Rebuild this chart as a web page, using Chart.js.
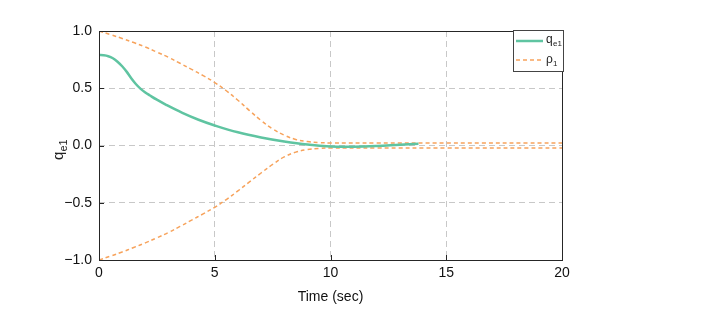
<!DOCTYPE html>
<html>
<head>
<meta charset="utf-8">
<script src="https://cdn.jsdelivr.net/npm/chart.js@4.4.0/dist/chart.umd.min.js"></script>
<style>
  html, body { margin: 0; padding: 0; background: #fff; }
  #wrap { width: 710px; height: 310px; }
</style>
</head>
<body>
<div id="wrap"><canvas id="c" width="710" height="310"></canvas></div>
<script>
// time samples and values
const qTime = [0, 0.2, 0.4, 0.6, 0.8, 1.0, 1.2, 1.4, 1.6, 1.8, 2.0, 2.2, 2.5, 2.9, 3.6, 4.3, 5, 6, 7, 8, 9, 10, 11, 12, 13, 13.8];
const qValues = [0.79, 0.788, 0.78, 0.762, 0.732, 0.692, 0.643, 0.585, 0.535, 0.495, 0.463, 0.437, 0.4, 0.355, 0.285, 0.225, 0.175, 0.115, 0.07, 0.035, 0.008, -0.008, -0.01, -0.004, 0.007, 0.015];

const rhoTime = [0, 0.5, 1, 1.5, 2, 2.5, 3, 3.5, 4, 4.5, 5, 5.5, 6, 6.5, 7, 7.5, 8, 8.5, 9, 9.5, 10, 12, 15, 20];
const rhoUpper = [1.0, 0.968, 0.935, 0.899, 0.86, 0.816, 0.77, 0.718, 0.665, 0.61, 0.55, 0.478, 0.395, 0.305, 0.218, 0.145, 0.09, 0.053, 0.035, 0.026, 0.022, 0.022, 0.022, 0.022];
const rhoLower = [-1.0, -0.966, -0.93, -0.891, -0.85, -0.806, -0.76, -0.707, -0.652, -0.597, -0.54, -0.472, -0.397, -0.318, -0.24, -0.165, -0.1, -0.058, -0.035, -0.026, -0.022, -0.022, -0.022, -0.022];

const xTicks = [0, 5, 10, 15, 20];
const yTicks = [-1.0, -0.5, 0.0, 0.5, 1.0];

const GREEN = '#5fc4a1';
const ORANGE = '#f7a35c';

function pts(xs, ys) {
  return xs.map((x, i) => ({ x, y: ys[i] }));
}

// box, inward ticks, legend with subscripts, y title
const decor = {
  id: 'decor',
  afterDraw(chart) {
    const { ctx, chartArea: a, scales: { x, y } } = chart;
    ctx.save();
    ctx.strokeStyle = '#262626';
    ctx.lineWidth = 1;
    ctx.setLineDash([]);
    ctx.strokeRect(Math.round(a.left) + 0.5, Math.round(a.top) + 0.5,
      Math.round(a.right - a.left), Math.round(a.bottom - a.top));

    ctx.beginPath();
    xTicks.forEach(v => {
      const px = Math.round(x.getPixelForValue(v)) + 0.5;
      ctx.moveTo(px, a.bottom);
      ctx.lineTo(px, a.bottom - 5);
    });
    yTicks.forEach(v => {
      const py = Math.round(y.getPixelForValue(v)) + 0.5;
      ctx.moveTo(a.left, py);
      ctx.lineTo(a.left + 5, py);
    });
    ctx.stroke();

    // legend
    const lx = a.right - 49, ly = a.top - 1, lw = 50, lh = 41;
    ctx.fillStyle = '#fff';
    ctx.fillRect(lx, ly, lw, lh);
    ctx.strokeStyle = '#444';
    ctx.strokeRect(lx + 0.5, ly + 0.5, lw, lh);

    ctx.lineWidth = 2.5;
    ctx.strokeStyle = GREEN;
    ctx.beginPath();
    ctx.moveTo(lx + 3, ly + 11);
    ctx.lineTo(lx + 30, ly + 11);
    ctx.stroke();

    ctx.lineWidth = 1.5;
    ctx.strokeStyle = ORANGE;
    ctx.setLineDash([4, 3]);
    ctx.beginPath();
    ctx.moveTo(lx + 3, ly + 30);
    ctx.lineTo(lx + 30, ly + 30);
    ctx.stroke();
    ctx.setLineDash([]);

    ctx.fillStyle = '#222';
    ctx.textBaseline = 'alphabetic';
    ctx.textAlign = 'left';
    ctx.font = '12px "Liberation Sans", Arial, sans-serif';
    ctx.fillText('q', lx + 33, ly + 13);
    ctx.fillText('\u03c1', lx + 33, ly + 33);
    ctx.font = '8px "Liberation Sans", Arial, sans-serif';
    ctx.fillText('e1', lx + 40, ly + 16);
    ctx.fillText('1', lx + 40, ly + 36);

    // y axis title
    ctx.translate(63, 160);
    ctx.rotate(-Math.PI / 2);
    ctx.font = '15px "Liberation Sans", Arial, sans-serif';
    ctx.fillText('q', 0, 0);
    ctx.font = '11px "Liberation Sans", Arial, sans-serif';
    ctx.fillText('e1', 8.5, 4);
    ctx.restore();
  }
};

const gridColor = ctx => {
  const v = ctx.tick && ctx.tick.value;
  return (v === undefined || Math.abs(v) === 20 || v === 0 && ctx.scale.axis === 'x' || Math.abs(v) === 1) ? 'rgba(0,0,0,0)' : '#c8c8c8';
};

new Chart(document.getElementById('c'), {
  type: 'line',
  data: {
    datasets: [
      {
        label: 'q_e1',
        data: pts(qTime, qValues),
        borderColor: GREEN,
        borderWidth: 2.5,
        pointRadius: 0,
        tension: 0.4,
        fill: false
      },
      {
        label: 'rho_1',
        data: pts(rhoTime, rhoUpper),
        borderColor: ORANGE,
        borderWidth: 1.5,
        borderDash: [4, 3],
        pointRadius: 0,
        tension: 0.4,
        fill: false
      },
      {
        label: 'rho_1 lower',
        data: pts(rhoTime, rhoLower),
        borderColor: ORANGE,
        borderWidth: 1.5,
        borderDash: [4, 3],
        pointRadius: 0,
        tension: 0.4,
        fill: false
      }
    ]
  },
  options: {
    responsive: false,
    animation: false,
    events: [],
    layout: { padding: { left: 0, top: 31, right: 148, bottom: 0 } },
    plugins: {
      legend: { display: false },
      tooltip: { enabled: false }
    },
    scales: {
      x: {
        type: 'linear',
        min: 0,
        max: 20,
        afterBuildTicks: s => { s.ticks = xTicks.map(v => ({ value: v })); },
        afterFit: s => { s.height = 50; },
        grid: { color: gridColor, lineWidth: 1, drawTicks: false },
        border: { display: false, dash: [6, 4] },
        ticks: {
          color: '#111',
          padding: 5,
          maxRotation: 0,
          font: { family: '"Liberation Sans", Arial, sans-serif', size: 14 },
          callback: v => String(v)
        },
        title: {
          display: true,
          text: 'Time (sec)',
          color: '#111',
          padding: { top: 0, bottom: 4 },
          font: { family: '"Liberation Sans", Arial, sans-serif', size: 14 }
        }
      },
      y: {
        type: 'linear',
        min: -1,
        max: 1,
        afterBuildTicks: s => { s.ticks = yTicks.map(v => ({ value: v })); },
        afterFit: s => { s.width = 99; },
        grid: { color: gridColor, lineWidth: 1, drawTicks: false },
        border: { display: false, dash: [6, 4] },
        ticks: {
          color: '#111',
          padding: 7,
          font: { family: '"Liberation Sans", Arial, sans-serif', size: 14 },
          callback: v => (v < 0 ? '\u2212' : '') + Math.abs(v).toFixed(1)
        }
      }
    }
  },
  plugins: [decor]
});
</script>
</body>
</html>
